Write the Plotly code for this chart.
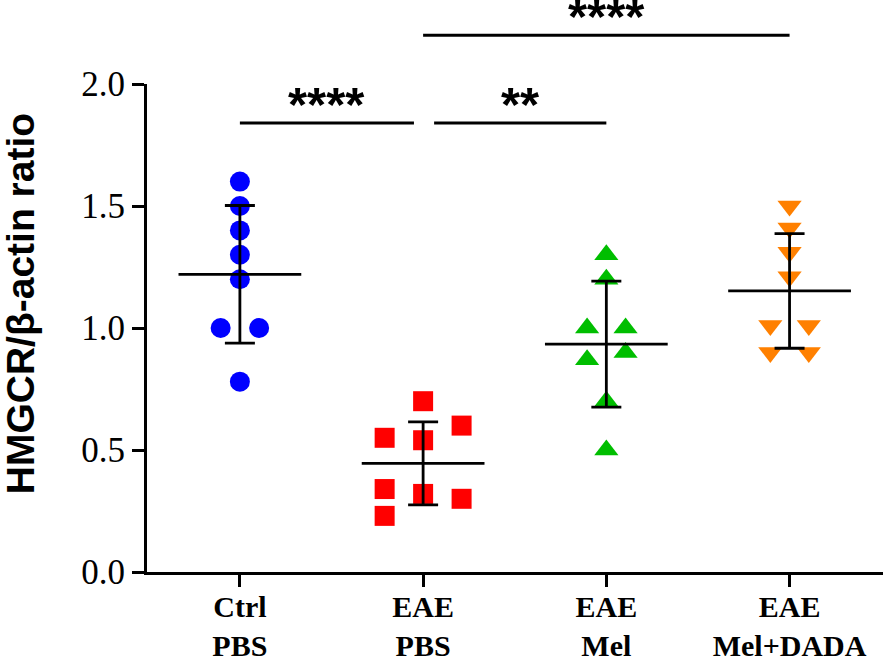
import plotly.graph_objects as go

# Grupos e valores (HMGCR/beta-actina)
grupos = ["Ctrl<br>PBS", "EAE<br>PBS", "EAE<br>Mel", "EAE<br>Mel+DADA"]

ctrl_pbs = [1.60, 1.50, 1.40, 1.30, 1.20, 1.00, 1.00, 0.78]
eae_pbs = [0.70, 0.55, 0.54, 0.60, 0.34, 0.32, 0.30, 0.23]
eae_mel = [1.30, 1.20, 1.00, 1.00, 0.87, 0.90, 0.70, 0.50]
eae_mel_dada = [1.50, 1.41, 1.31, 1.21, 1.01, 1.01, 0.90, 0.90]

medias = [1.22, 0.445, 0.934, 1.152]
desvios = [0.282, 0.170, 0.258, 0.235]

# comparacoes: (grupo a, grupo b, altura, texto)
comparacoes = [(0, 0.95, 1.84, "****"), (1.06, 2, 1.84, "**"), (1, 3, 2.20, "****")]

# deslocamento horizontal dos pontos (como no GraphPad)
jitter = [
    [0, 0, 0, 0, 0, -0.105, 0.105, 0],
    [0, -0.21, 0, 0.21, -0.21, 0, 0.21, -0.21],
    [0, 0, -0.105, 0.105, -0.105, 0.105, 0, 0],
    [0, 0, 0, 0, -0.105, 0.105, -0.105, 0.105],
]
cores = ["#0000FF", "#FF0000", "#00BE00", "#FF8000"]
simbolos = ["circle", "square", "triangle-up", "triangle-down"]
tamanhos = [20, 20, 21, 21]

dados = [ctrl_pbs, eae_pbs, eae_mel, eae_mel_dada]

fig = go.Figure()

for i, vals in enumerate(dados):
    fig.add_trace(go.Scatter(
        x=[i + j for j in jitter[i]], y=vals, mode="markers",
        marker=dict(color=cores[i], symbol=simbolos[i], size=tamanhos[i],
                    line=dict(width=0)),
        cliponaxis=False, showlegend=False))

# media +- DP
fig.add_trace(go.Scatter(
    x=list(range(len(grupos))), y=medias, mode="markers",
    marker=dict(size=1, color="rgba(0,0,0,0)"),
    error_x=dict(type="constant", value=0.335, width=0, thickness=2.8, color="black"),
    error_y=dict(type="data", array=desvios, width=15, thickness=2.8, color="black"),
    showlegend=False))

# barras de significancia (eixo auxiliar y2 para poder passar de 2.0)
dominio = (572 - 84) / 567
for a, b, h, txt in comparacoes:
    fig.add_trace(go.Scatter(
        x=[a, b], y=[h, h], mode="lines", yaxis="y2",
        line=dict(color="black", width=3), showlegend=False))
    fig.add_annotation(
        x=(a + b) / 2, y=h, xref="x", yref="y2", text=txt,
        showarrow=False, yanchor="bottom", yshift=-10,
        font=dict(family="Liberation Sans", size=49, color="black", weight="bold"))

fig.add_annotation(
    x=-0.1726, y=0.474, xref="paper", yref="paper", text="HMGCR/β-actin ratio",
    textangle=-90, showarrow=False, xanchor="center", yanchor="middle",
    font=dict(family="Liberation Sans", size=39, color="black", weight="bold"))

fig.update_layout(
    width=886, height=661,
    margin=dict(l=147, r=3, t=5, b=89),
    plot_bgcolor="rgba(0,0,0,0)", paper_bgcolor="white",
    xaxis=dict(
        range=[-0.507, 3.51], tickvals=[0, 1, 2, 3], ticktext=grupos,
        showline=True, linecolor="black", linewidth=3,
        ticks="outside", ticklen=12, tickwidth=3, tickcolor="black",
        showgrid=False, zeroline=False, automargin=False, ticklabelstandoff=-6,
        tickfont=dict(family="Liberation Serif", size=30, color="black", weight="bold")),
    yaxis=dict(
        range=[0, 2.0], domain=[0, dominio], dtick=0.5, tickformat=".1f",
        showline=True, linecolor="black", linewidth=3,
        ticks="outside", ticklen=12, tickwidth=3, tickcolor="black",
        showgrid=False, zeroline=False, automargin=False,
        tickfont=dict(family="Liberation Serif", size=35, color="black")),
    yaxis2=dict(range=[0, 2.0 / dominio], domain=[0, 1], anchor="x",
                visible=False, showgrid=False, zeroline=False),
)

fig.write_html("out.html", config={"displayModeBar": False},
               post_script="document.body.style.margin = '0px';")
